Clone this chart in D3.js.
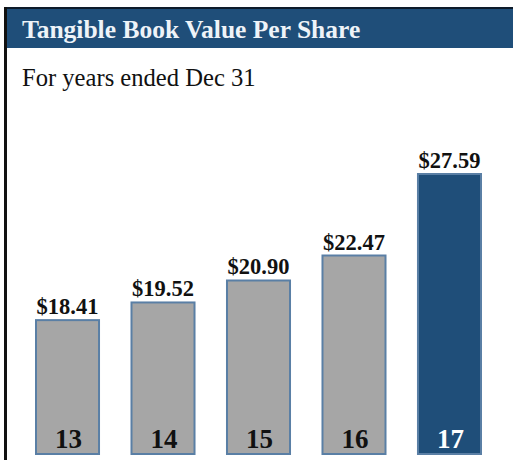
<!DOCTYPE html>
<html><head><meta charset="utf-8">
<script src="https://cdn.jsdelivr.net/npm/d3@7"></script>
<style>html,body{margin:0;padding:0;background:#fff;overflow:hidden}</style>
</head><body>
<script>
const categories = ["13", "14", "15", "16", "17"];
const values = [18.41, 19.52, 20.90, 22.47, 27.59];
const valueLabels = ["$18.41", "$19.52", "$20.90", "$22.47", "$27.59"];
const title = "Tangible Book Value Per Share";
const subtitle = "For years ended Dec 31";

const W = 513, H = 460;
const svg = d3.select("body").append("svg").attr("width", W).attr("height", H);
const serif = "'Liberation Serif','Times New Roman',serif";

// frame
svg.append("rect").attr("x", 4).attr("y", 7).attr("width", W - 4).attr("height", 41).attr("fill", "#1f4e79");
svg.append("rect").attr("x", 4).attr("y", 7).attr("width", W - 4).attr("height", 2).attr("fill", "#0d1b2a");
svg.append("rect").attr("x", 4).attr("y", 7).attr("width", 3).attr("height", H - 7).attr("fill", "#111");

svg.append("text").attr("x", 22).attr("y", 38).text(title)
  .attr("font-family", serif).attr("font-weight", "bold").attr("font-size", 25.5)
  .attr("fill", "#eef3f8");
svg.append("text").attr("x", 22).attr("y", 86).text(subtitle)
  .attr("font-family", serif).attr("font-size", 24.6).attr("fill", "#111");

const x = d3.scaleBand().domain(categories).range([36, 481]).paddingInner(0.34).paddingOuter(0);
const y = d3.scaleLinear().domain([10, 27.59]).range([454, 174]);

const g = svg.append("g");
const last = categories.length - 1;
g.selectAll("rect.bar").data(values).join("rect").attr("class", "bar")
  .attr("x", (d, i) => x(categories[i]))
  .attr("y", d => y(d))
  .attr("width", x.bandwidth())
  .attr("height", d => y(10) - y(d))
  .attr("fill", (d, i) => i === last ? "#1f4e79" : "#a6a6a6")
  .attr("stroke", "#5a7fa5").attr("stroke-width", 2);

g.selectAll("text.val").data(values).join("text").attr("class", "val")
  .attr("x", (d, i) => x(categories[i]) + x.bandwidth() / 2)
  .attr("y", d => y(d) - 6)
  .attr("text-anchor", "middle")
  .attr("font-family", serif).attr("font-weight", "bold").attr("font-size", 22.5)
  .attr("fill", "#111")
  .text((d, i) => valueLabels[i]);

g.selectAll("text.cat").data(categories).join("text").attr("class", "cat")
  .attr("x", d => x(d) + x.bandwidth() / 2 + 1)
  .attr("y", 448)
  .attr("text-anchor", "middle")
  .attr("font-family", serif).attr("font-weight", "bold").attr("font-size", 27)
  .attr("fill", (d, i) => i === last ? "#fff" : "#111")
  .text(d => d);
</script>
</body></html>
